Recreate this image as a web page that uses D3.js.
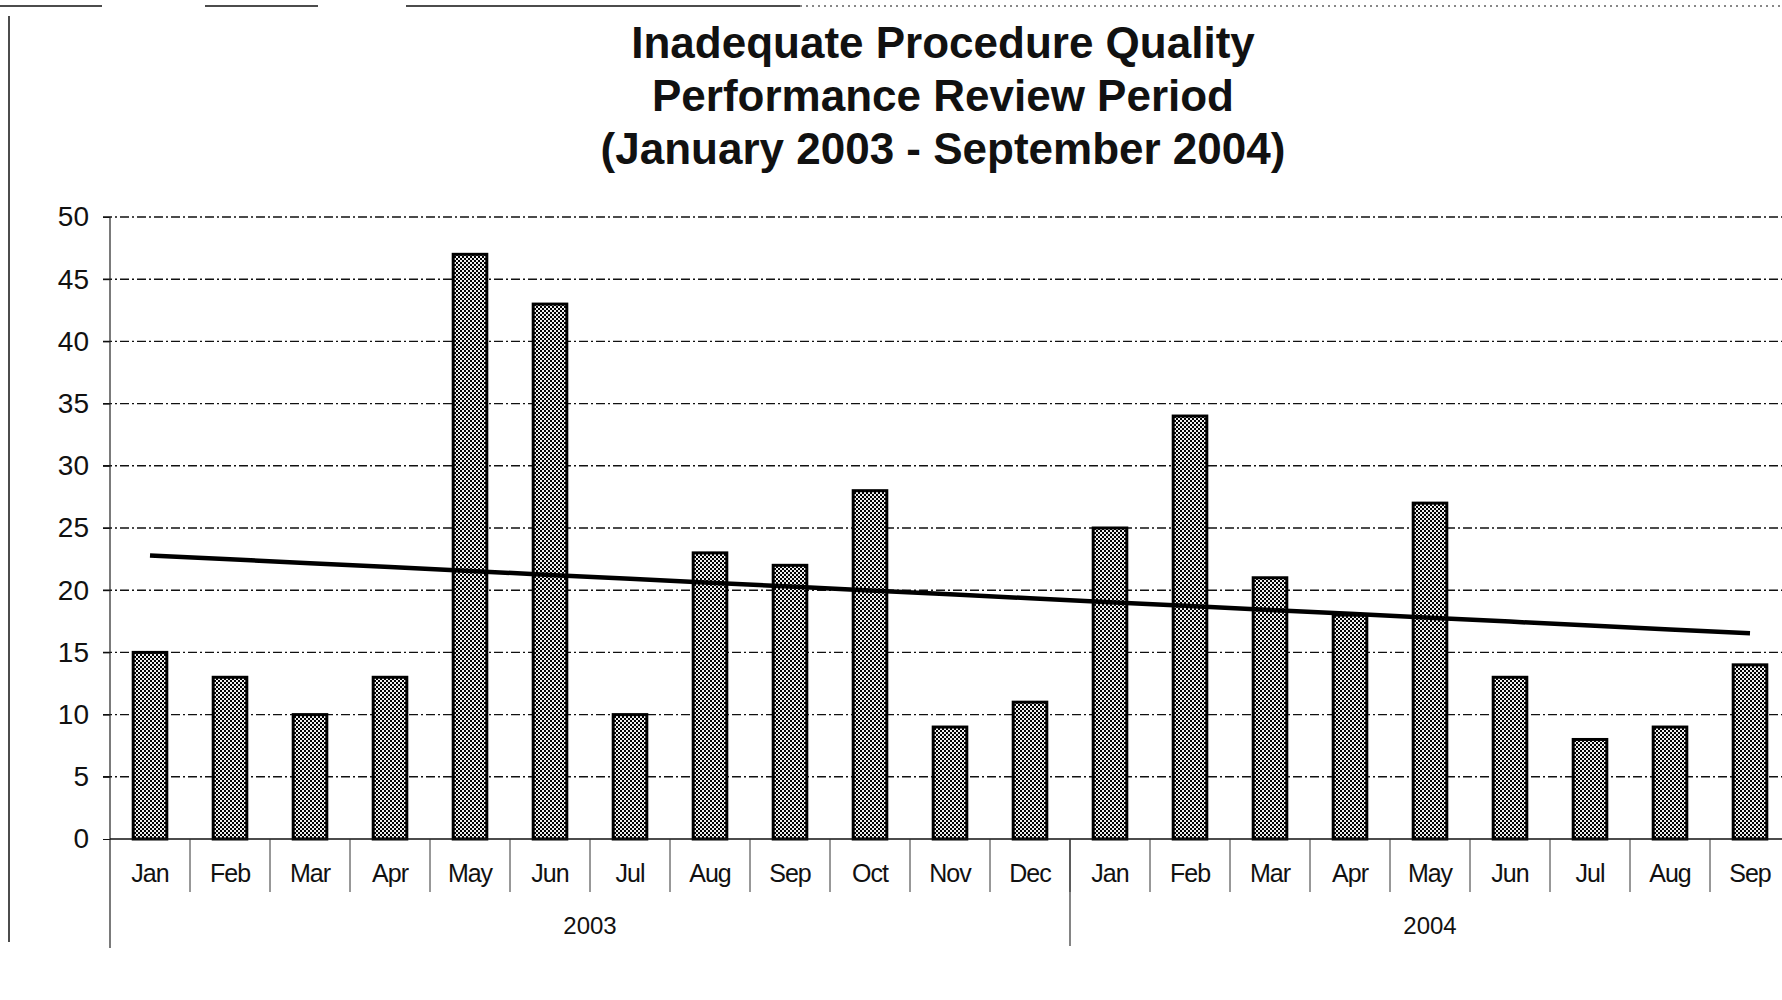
<!DOCTYPE html>
<html>
<head>
<meta charset="utf-8">
<script src="https://cdn.jsdelivr.net/npm/d3@7"></script>
<style>
  body { margin: 0; background: #fff; }
  svg { display: block; }
  text { font-family: "Liberation Sans", Arial, sans-serif; fill: #111; }
  .title { font-weight: bold; font-size: 44px; }
  .ytick { font-size: 28px; }
  .month { font-size: 25px; letter-spacing: -1px; }
  .year { font-size: 24px; }
</style>
</head>
<body>
<svg id="chart" width="1782" height="1000"></svg>
<script>
// chart data
const titleLines = ["Inadequate Procedure Quality", "Performance Review Period", "(January 2003 - September 2004)"];
const monthLabels = ["Jan", "Feb", "Mar", "Apr", "May", "Jun", "Jul", "Aug", "Sep", "Oct", "Nov", "Dec",
                     "Jan", "Feb", "Mar", "Apr", "May", "Jun", "Jul", "Aug", "Sep"];
const yearLabels = ["2003", "2004"];
const monthsPerYear = [12, 9];
const counts = [15, 13, 10, 13, 47, 43, 10, 23, 22, 28, 9, 11, 25, 34, 21, 18, 27, 13, 8, 9, 14];
const yTicks = [0, 5, 10, 15, 20, 25, 30, 35, 40, 45, 50];

const svg = d3.select('#chart');
const W = 1782, H = 1000;
const plotLeft = 110, plotTop = 217, plotBottom = 839;
const step = 80;

const keys = counts.map((d, i) => i);

const x = d3.scaleBand()
  .domain(keys)
  .range([plotLeft, plotLeft + step * keys.length])
  .padding(0);

const xBar = d3.scaleBand()
  .domain(keys)
  .range(x.range())
  .paddingInner(0.58)
  .paddingOuter(0.29);

const y = d3.scaleLinear()
  .domain([0, 50])
  .range([plotBottom, plotTop]);

// checker pattern for the bars
const defs = svg.append('defs');
const pat = defs.append('pattern')
  .attr('id', 'checker')
  .attr('width', 4).attr('height', 4)
  .attr('patternUnits', 'userSpaceOnUse');
pat.append('rect').attr('width', 4).attr('height', 4).attr('fill', '#000');
pat.append('rect').attr('x', 0).attr('y', 0).attr('width', 2).attr('height', 2).attr('fill', '#eee');
pat.append('rect').attr('x', 2).attr('y', 2).attr('width', 2).attr('height', 2).attr('fill', '#eee');

// frame of the scanned chart area
const frame = svg.append('g').attr('stroke', '#111').attr('stroke-width', 1.5);
frame.append('line').attr('x1', 0).attr('x2', 102).attr('y1', 6).attr('y2', 6);
frame.append('line').attr('x1', 205).attr('x2', 318).attr('y1', 6).attr('y2', 6);
frame.append('line').attr('x1', 406).attr('x2', 800).attr('y1', 6).attr('y2', 6);
frame.append('line').attr('x1', 800).attr('x2', W).attr('y1', 6).attr('y2', 6)
  .attr('stroke-width', 1).attr('stroke-dasharray', '2,4');
frame.append('line').attr('x1', 9).attr('x2', 9).attr('y1', 16).attr('y2', 942);

// title
svg.append('g')
  .selectAll('text')
  .data(titleLines)
  .join('text')
  .attr('class', 'title')
  .attr('x', 943)
  .attr('y', (d, i) => 58 + i * 53)
  .attr('text-anchor', 'middle')
  .text(d => d);

// gridlines
svg.append('g')
  .selectAll('line')
  .data(yTicks.filter(t => t > 0))
  .join('line')
  .attr('x1', plotLeft - 7)
  .attr('x2', W)
  .attr('y1', d => y(d))
  .attr('y2', d => y(d))
  .attr('stroke', '#111')
  .attr('stroke-width', 1.4)
  .attr('stroke-dasharray', '9,3,2,3');

// y axis
const yAxis = svg.append('g')
  .attr('transform', `translate(${plotLeft},0)`)
  .call(d3.axisLeft(y).tickValues(yTicks).tickSize(7).tickPadding(14));
yAxis.select('.domain').remove();
yAxis.selectAll('.tick line').attr('stroke', '#111');
yAxis.selectAll('.tick text').attr('class', 'ytick');
yAxis.attr('font-family', null).attr('font-size', null);
svg.append('line')
  .attr('x1', plotLeft).attr('x2', plotLeft)
  .attr('y1', plotTop).attr('y2', 948)
  .attr('stroke', '#222').attr('stroke-width', 1.2);

// bars
svg.append('g')
  .selectAll('rect')
  .data(counts)
  .join('rect')
  .attr('x', (d, i) => xBar(i))
  .attr('y', d => y(d))
  .attr('width', xBar.bandwidth())
  .attr('height', d => y(0) - y(d))
  .attr('fill', 'url(#checker)')
  .attr('stroke', '#000')
  .attr('stroke-width', 3);

// category axis
svg.append('line')
  .attr('x1', plotLeft).attr('x2', W)
  .attr('y1', y(0)).attr('y2', y(0))
  .attr('stroke', '#111').attr('stroke-width', 1.5);

svg.append('g')
  .selectAll('line')
  .data(keys.slice(1))
  .join('line')
  .attr('x1', d => x(d)).attr('x2', d => x(d))
  .attr('y1', y(0)).attr('y2', y(0) + 53)
  .attr('stroke', '#333').attr('stroke-width', 1);

svg.append('g')
  .selectAll('text')
  .data(monthLabels)
  .join('text')
  .attr('class', 'month')
  .attr('x', (d, i) => x(i) + x.bandwidth() / 2)
  .attr('y', 882)
  .attr('text-anchor', 'middle')
  .text(d => d);

// year groups
let start = 0;
const yearGroups = yearLabels.map((label, j) => {
  const g = { label, first: start, last: start + monthsPerYear[j] - 1 };
  start += monthsPerYear[j];
  return g;
});

svg.append('g')
  .selectAll('line')
  .data(yearGroups.slice(1))
  .join('line')
  .attr('x1', d => x(d.first)).attr('x2', d => x(d.first))
  .attr('y1', y(0)).attr('y2', 946)
  .attr('stroke', '#333').attr('stroke-width', 1.2);

svg.append('g')
  .selectAll('text')
  .data(yearGroups)
  .join('text')
  .attr('class', 'year')
  .attr('x', d => (x(d.first) + x(d.last) + x.bandwidth()) / 2)
  .attr('y', 934)
  .attr('text-anchor', 'middle')
  .text(d => d.label);

// linear trend line (least squares over the monthly counts)
const mx = d3.mean(keys), my = d3.mean(counts);
const slope = d3.sum(keys, i => (i - mx) * (counts[i] - my)) / d3.sum(keys, i => (i - mx) ** 2);
const icpt = my - slope * mx;
const trend = keys.map(i => [i, icpt + slope * i]);

svg.append('path')
  .datum(trend)
  .attr('fill', 'none')
  .attr('stroke', '#000')
  .attr('stroke-width', 4.5)
  .attr('d', d3.line()
    .x(d => x(d[0]) + x.bandwidth() / 2)
    .y(d => y(d[1])));
</script>
</body>
</html>
